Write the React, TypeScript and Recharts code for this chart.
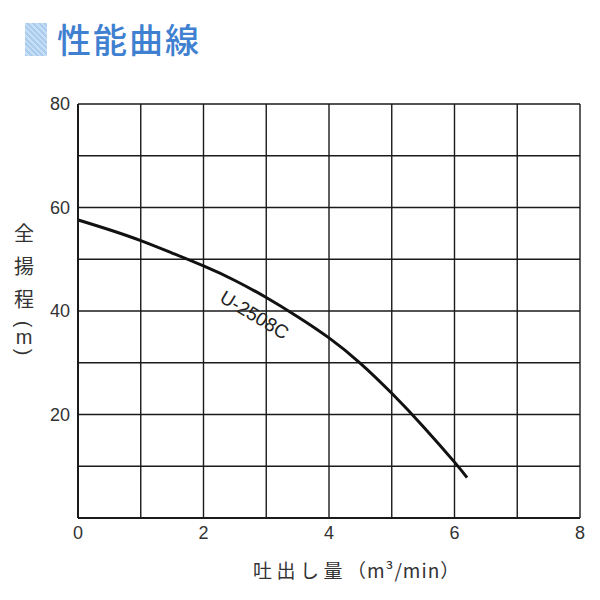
import { CartesianGrid, Line, LineChart, ReferenceDot, XAxis, YAxis } from 'recharts'

// Pump performance curve (全揚程 vs 吐出し量) for U-2508C
const flowValues = [0, 0.5, 1, 1.5, 2, 2.5, 3, 3.5, 4, 4.5, 5, 5.5, 6, 6.2]
const headValues = [57.6, 55.7, 53.6, 51.2, 48.7, 45.9, 42.6, 38.9, 34.8, 29.9, 24.1, 17.7, 10.8, 7.8]

const xTicks = [0, 1, 2, 3, 4, 5, 6, 7, 8]
const yTicks = [0, 10, 20, 30, 40, 50, 60, 70, 80]

const modelName = 'U-2508C'
const modelLabelAt = { flow: 2.8, head: 39.0 }

const titleText = '性能曲線'
const yLabelChars = ['全', '揚', '程']
const yLabelUnit = 'm'
const xLabelText = '吐出し量'
const xLabelUnit = '（m³/min）'

const data = flowValues.map((flow, i) => ({ flow, head: headValues[i] }))

const tickStyle = { fontSize: 18, fill: '#333', fontFamily: 'Liberation Sans, Arial, sans-serif' }
const cjk = '"Noto Sans CJK JP", sans-serif'

export default function App() {
  return (
    <div style={{ position: 'absolute', left: 0, top: 0, width: 600, height: 600, background: '#fff' }}>
      {/* title with hatched blue marker */}
      <div
        style={{
          position: 'absolute',
          left: 25,
          top: 23,
          width: 22,
          height: 33,
          background:
            'repeating-linear-gradient(45deg, #a9ccef 0px, #a9ccef 2px, #c8def5 2px, #c8def5 4px)',
        }}
      />
      <div
        style={{
          position: 'absolute',
          left: 57,
          top: 19,
          fontSize: 34,
          lineHeight: '40px',
          fontWeight: 500,
          color: '#3f80d0',
          fontFamily: cjk,
          letterSpacing: 2,
        }}
      >
        {titleText}
      </div>

      <LineChart
        width={600}
        height={600}
        data={data}
        margin={{ top: 104, right: 20, bottom: 52, left: 20 }}
        style={{ position: 'absolute', left: 0, top: 0 }}
      >
        <CartesianGrid stroke="#1a1a1a" strokeWidth={1.4} />
        <XAxis
          dataKey="flow"
          type="number"
          domain={[0, 8]}
          ticks={xTicks}
          interval={0}
          tickFormatter={v => (v % 2 === 0 ? String(v) : '')}
          tick={tickStyle}
          tickLine={false}
          axisLine={{ stroke: '#1a1a1a', strokeWidth: 2 }}
          height={30}
        />
        <YAxis
          type="number"
          domain={[0, 80]}
          ticks={yTicks}
          interval={0}
          tickFormatter={v => (v !== 0 && v % 20 === 0 ? String(v) : '')}
          tick={tickStyle}
          tickLine={false}
          axisLine={{ stroke: '#1a1a1a', strokeWidth: 2 }}
          width={58}
        />
        <Line
          type="natural"
          dataKey="head"
          stroke="#111"
          strokeWidth={3}
          dot={false}
          activeDot={false}
          isAnimationActive={false}
        />
        <ReferenceDot
          x={modelLabelAt.flow}
          y={modelLabelAt.head}
          r={0}
          shape={(props: { cx?: number; cy?: number }) => {
            const { cx = 0, cy = 0 } = props
            return (
              <text
                x={cx}
                y={cy}
                textAnchor="middle"
                dominantBaseline="middle"
                fontSize={19}
                fill="#222"
                fontFamily="Liberation Sans, Arial, sans-serif"
                transform={`rotate(31 ${cx} ${cy})`}
              >
                {modelName}
              </text>
            )
          }}
        />
      </LineChart>

      {/* vertical y-axis title */}
      <div
        style={{
          position: 'absolute',
          left: 12,
          top: 220,
          width: 24,
          fontSize: 20,
          color: '#333',
          fontFamily: cjk,
          textAlign: 'center',
        }}
      >
        {yLabelChars.map((ch, i) => (
          <div key={i} style={{ height: 33, lineHeight: '26px' }}>
            {ch}
          </div>
        ))}
        <div
          style={{
            height: 10,
            lineHeight: '10px',
            fontFamily: 'Liberation Sans, sans-serif',
            transform: 'rotate(90deg)',
          }}
        >
          (
        </div>
        <div style={{ height: 18, lineHeight: '16px', fontFamily: 'Liberation Sans, sans-serif' }}>
          {yLabelUnit}
        </div>
        <div
          style={{
            height: 10,
            lineHeight: '10px',
            fontFamily: 'Liberation Sans, sans-serif',
            transform: 'rotate(90deg)',
          }}
        >
          )
        </div>
      </div>

      <div
        style={{
          position: 'absolute',
          left: 253,
          top: 558,
          fontSize: 19,
          lineHeight: '24px',
          color: '#333',
          fontFamily: cjk,
          whiteSpace: 'nowrap',
        }}
      >
        <span style={{ letterSpacing: 4.5 }}>{xLabelText}</span>
        <span style={{ letterSpacing: 1 }}>{xLabelUnit}</span>
      </div>
    </div>
  )
}
